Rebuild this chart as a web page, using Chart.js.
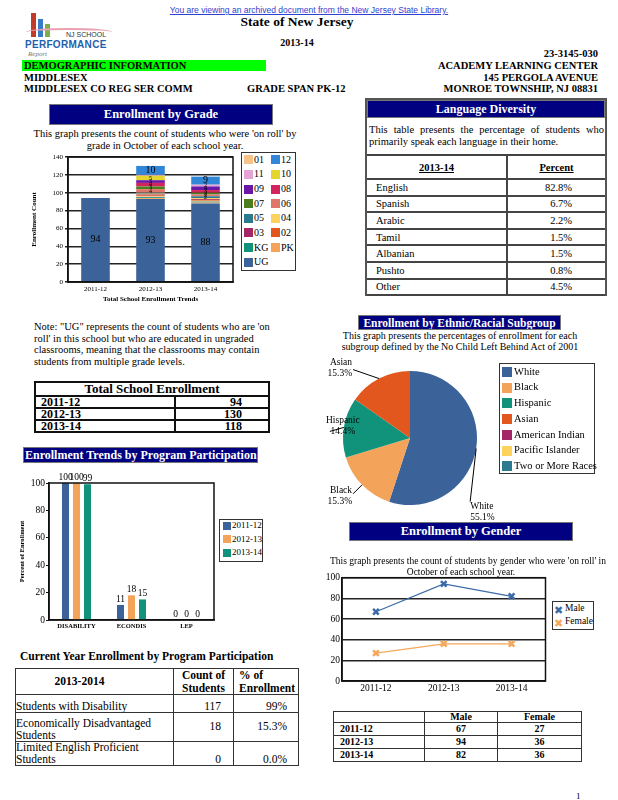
<!DOCTYPE html>
<html>
<head>
<meta charset="utf-8">
<script src="https://cdn.jsdelivr.net/npm/chart.js@4.4.1/dist/chart.umd.min.js"></script>
<style>
  body { margin: 0; background: #fff; font-family: 'Liberation Serif', serif; color: #000; }
  #page { position: relative; width: 618px; height: 800px; overflow: hidden; }
  .a { position: absolute; white-space: nowrap; line-height: 1; }
  .b { font-weight: bold; }
  .navy { position: absolute; background: #000080; color: #fff; font-weight: bold; display: flex;
          align-items: center; justify-content: center; border: 1px solid #777; box-sizing: border-box; white-space: nowrap; overflow: hidden; }
  canvas { position: absolute; }
  .box { position: absolute; border: 1.5px solid #333; box-sizing: border-box; background: #fff; }
  .sw { position: absolute; }
  table { position: absolute; border-collapse: collapse; table-layout: fixed; }
  td { padding: 0; overflow: hidden; white-space: nowrap; }
  #langTbl td { border-top: 2px solid #444; font-size: 10.5px; height: 14.6px; }
  #langTbl td + td { border-left: 2px solid #444; text-align: right; padding-right: 33px; }
  #langTbl td:first-child { padding-left: 9px; }
  #totTbl td { border: 2px solid #111; font-weight: bold; font-size: 12px; height: 10px; line-height: 10px; }
  #curTbl td { border: 1.5px solid #333; font-size: 11.5px; line-height: 11.5px; vertical-align: bottom; }
  #genTbl td { border: 1.5px solid #333; font-weight: bold; font-size: 10px; line-height: 10px; text-align: center; }
</style>
</head>
<body>
<div id="page">
  <!-- header -->
  <div class="a" style="left:0;width:618px;text-align:center;top:5px;font:8.5px 'Liberation Sans';color:#3040d0;text-decoration:underline">You are viewing an archived document from the New Jersey State Library.</div>
  <div class="sw" style="left:31px;top:13px;width:5px;height:24px;background:#c43a2a"></div>
  <div class="sw" style="left:38px;top:19px;width:5px;height:18px;background:#3a7bc8"></div>
  <div class="sw" style="left:45px;top:24px;width:5px;height:13px;background:#7bb04a"></div>
  <div class="sw" style="left:26px;top:28px;width:86px;height:6px;border-top:2px solid #e9a0b0;border-radius:50% 50% 0 0"></div>
  <div class="a" style="left:66px;top:31px;font:7px 'Liberation Sans';color:#333">NJ SCHOOL</div>
  <div class="a" style="left:25px;top:39px;font:bold 10px 'Liberation Sans';color:#1f5fae;letter-spacing:0.3px">PERFORMANCE</div>
  <div class="a" style="left:28px;top:50px;font:italic 7px 'Liberation Serif';color:#777">Report</div>

  <div class="a b" style="left:197px;width:200px;text-align:center;top:15px;font-size:13.5px">State of New Jersey</div>
  <div class="a b" style="left:197px;width:200px;text-align:center;top:38px;font-size:10px">2013-14</div>
  <div class="a b" style="right:20px;top:49px;font-size:10.5px">23-3145-030</div>
  <div class="sw" style="left:22px;top:60px;width:244px;height:11px;background:#00ff00"></div>
  <div class="a b" style="left:24px;top:61px;font-size:10.5px">DEMOGRAPHIC INFORMATION</div>
  <div class="a b" style="right:20px;top:61px;font-size:10.5px">ACADEMY LEARNING CENTER</div>
  <div class="a b" style="left:24px;top:73px;font-size:10.5px">MIDDLESEX</div>
  <div class="a b" style="right:20px;top:73px;font-size:10.5px">145 PERGOLA AVENUE</div>
  <div class="a b" style="left:24px;top:84px;font-size:10.5px">MIDDLESEX CO REG SER COMM</div>
  <div class="a b" style="left:247px;top:84px;font-size:10.5px">GRADE SPAN PK-12</div>
  <div class="a b" style="right:20px;top:84px;font-size:10.5px">MONROE TOWNSHIP, NJ 08831</div>

  <!-- enrollment by grade -->
  <div class="navy" style="left:49px;top:104px;width:224px;height:21px;font-size:12.5px">Enrollment by Grade</div>
  <div class="a" style="left:30px;width:270px;text-align:center;top:128px;font-size:10.5px;line-height:12px">This graph presents the count of students who were 'on roll' by<br>grade in October of each school year.</div>
  <canvas id="gradeChart" width="206" height="153" style="left:30px;top:150px"></canvas>
  <div class="box" id="gradeLegend" style="left:241px;top:152px;width:55px;height:119px"></div>

  <!-- language diversity -->
  <div class="box" style="left:365px;top:98px;width:242px;height:198px;border:2px solid #555"></div>
  <div class="navy" style="left:367px;top:100px;width:238px;height:18px;font-size:12px">Language Diversity</div>
  <div class="a" style="left:369px;width:235px;top:124px;font-size:10.5px;line-height:12px;white-space:normal;text-align:justify">This table presents the percentage of students who primarily speak each language in their home.</div>
  <table id="langTbl" style="left:367px;top:154px;width:238px"></table>

  <!-- note + total -->
  <div class="a" style="left:34px;top:321px;font-size:10.5px;line-height:11.7px">Note: "UG" represents the count of students who are 'on<br>roll' in this school but who are educated in ungraded<br>classrooms, meaning that the classrooms may contain<br>students from multiple grade levels.</div>
  <table id="totTbl" style="left:34px;top:381px;width:236px"></table>

  <!-- program participation -->
  <div class="navy" style="left:23px;top:447px;width:235px;height:16px;font-size:12px;justify-content:flex-start;padding-left:1px">Enrollment Trends by Program Participation</div>
  <canvas id="progChart" width="200" height="170" style="left:18px;top:470px"></canvas>
  <div class="box" id="progLegend" style="left:219px;top:519px;width:44px;height:43px"></div>

  <div class="a b" style="left:20px;top:651px;font-size:11.5px">Current Year Enrollment by Program Participation</div>
  <table id="curTbl" style="left:15px;top:668px;width:284px"></table>

  <!-- ethnic -->
  <div class="navy" style="left:358px;top:315px;width:203px;height:15px;font-size:11.5px">Enrollment by Ethnic/Racial Subgroup</div>
  <div class="a" style="left:320px;width:280px;text-align:center;top:330px;font-size:10px;line-height:11px">This graph presents the percentages of enrollment for each<br>subgroup defined by the No Child Left Behind Act of 2001</div>
  <canvas id="ethChart" width="180" height="170" style="left:320px;top:355px"></canvas>
  <div class="box" id="ethLegend" style="left:499px;top:363px;width:96px;height:111px"></div>

  <!-- gender -->
  <div class="navy" style="left:349px;top:522px;width:224px;height:19px;font-size:12.5px">Enrollment by Gender</div>
  <canvas id="genChart" width="236" height="128" style="left:316px;top:570px"></canvas>
  <div class="a" style="left:330px;width:262px;text-align:center;top:556px;font-size:9.5px;line-height:10.5px">This graph presents the count of students by gender who were 'on roll' in<br>October of each school year.</div>
  <div class="box" id="genLegend" style="left:552px;top:601px;width:42px;height:29px"></div>
  <table id="genTbl" style="left:333px;top:711px;width:249px"></table>

  <div class="a" style="left:576px;top:792px;font-size:9px">1</div>
</div>

<script>
  // ---- data ----
  const years = ['2011-12', '2012-13', '2013-14'];

  const grades = ['UG', 'PK', 'KG', '01', '02', '03', '04', '05', '06', '07', '08', '09', '10', '11', '12'];
  const gradeColors = ['#3b6399', '#f3a35a', '#10937a', '#f7c38a', '#e2571e', '#a32766', '#fdd35e', '#2b7a8f',
                       '#e0766a', '#4b7e1c', '#d3245e', '#6a16a6', '#e4d52f', '#e3a3d4', '#3286d8'];
  const gradeCounts = [
    [94, 93, 88], [0, 1, 1], [0, 1, 1], [0, 1, 1], [0, 1, 1], [0, 1, 1], [0, 1, 1], [0, 1, 2],
    [0, 4, 2], [0, 3, 2], [0, 4, 3], [0, 3, 4], [0, 5, 0], [0, 1, 2], [0, 10, 9]
  ];
  const gradeLegendOrder = ['01', '12', '11', '10', '09', '08', '07', '06', '05', '04', '03', '02', 'KG', 'PK', 'UG'];

  const languages = ['English', 'Spanish', 'Arabic', 'Tamil', 'Albanian', 'Pushto', 'Other'];
  const languagePct = [82.8, 6.7, 2.2, 1.5, 1.5, 0.8, 4.5];

  const totalEnrollment = [94, 130, 118];

  const programs = ['DISABILITY', 'ECONDIS', 'LEP'];
  const yearColors = ['#3b6399', '#f3a35a', '#10937a'];
  const programPct = [[100, 11, 0], [100, 18, 0], [99, 15, 0]];

  const programNames = ['Students with Disability', 'Economically Disadvantaged<br>Students', 'Limited English Proficient<br>Students'];
  const programCounts = [117, 18, 0];
  const programShare = ['99%', '15.3%', '0.0%'];

  const subgroups = ['White', 'Black', 'Hispanic', 'Asian', 'American Indian', 'Pacific Islander', 'Two or More Races'];
  const subgroupPct = [55.1, 15.3, 14.4, 15.3, 0, 0, 0];
  const subgroupColors = ['#3b6399', '#f3a35a', '#10937a', '#e2571e', '#a32766', '#fdd35e', '#2b7a8f'];

  const genders = ['Male', 'Female'];
  const genderColors = ['#3b6aa8', '#f5a85a'];
  const maleCounts = [67, 94, 82];
  const femaleCounts = [27, 36, 36];

  Chart.defaults.font.family = "'Liberation Serif', serif";
  Chart.defaults.color = '#000';
  Chart.defaults.animation = false;

  // frame around the plot area
  const frame = {
    id: 'frame',
    afterDraw(chart) {
      const a = chart.chartArea, ctx = chart.ctx;
      ctx.save();
      ctx.strokeStyle = '#111';
      ctx.lineWidth = 1.5;
      ctx.strokeRect(a.left, a.top, a.right - a.left, a.bottom - a.top);
      ctx.restore();
    }
  };

  function valueLabels(mode) {
    return {
      id: 'valueLabels_' + mode,
      afterDatasetsDraw(chart) {
        const ctx = chart.ctx;
        ctx.save();
        ctx.fillStyle = '#000';
        ctx.textAlign = 'center';
        chart.data.datasets.forEach((ds, i) => {
          chart.getDatasetMeta(i).data.forEach((bar, j) => {
            const v = ds.data[j];
            if (mode === 'center') {
              if (v < 2) return;
              ctx.font = (v >= 9 ? '10px' : '6px') + " 'Liberation Serif'";
              ctx.textBaseline = 'middle';
              ctx.fillText(v, bar.x, (bar.y + bar.base) / 2);
            } else {
              ctx.font = "9.5px 'Liberation Serif'";
              ctx.textBaseline = 'bottom';
              ctx.fillText(v, bar.x, bar.y - 1);
            }
          });
        });
        ctx.restore();
      }
    };
  }

  // ---- enrollment by grade ----
  new Chart(document.getElementById('gradeChart'), {
    type: 'bar',
    data: {
      labels: years,
      datasets: grades.map((g, i) => ({
        label: g, data: gradeCounts[i], backgroundColor: gradeColors[i],
        barPercentage: 0.52, categoryPercentage: 1
      }))
    },
    options: {
      responsive: false,
      layout: { padding: { top: 7, right: 3 } },
      plugins: { legend: { display: false }, tooltip: { enabled: false } },
      scales: {
        x: {
          stacked: true,
          grid: { display: false, drawTicks: false },
          border: { color: '#111', width: 1.5 },
          ticks: { font: { size: 7 }, padding: 3 },
          title: { display: true, text: 'Total School Enrollment Trends', font: { size: 7, weight: 'bold' }, padding: { top: 3, bottom: 0 } },
          afterFit(s) { s.height = 21; }
        },
        y: {
          stacked: true, min: 0, max: 140,
          ticks: { stepSize: 20, font: { size: 7 }, padding: 2 },
          grid: { color: '#222', lineWidth: 1.5, tickLength: 3 },
          border: { color: '#111', width: 1.5 },
          title: { display: true, text: 'Enrollment Count', font: { size: 7, weight: 'bold' }, padding: 0 },
          afterFit(s) { s.width = 38; }
        }
      }
    },
    plugins: [valueLabels('center'), frame]
  });

  const gl = document.getElementById('gradeLegend');
  gradeLegendOrder.forEach((g, k) => {
    const col = k % 2, row = Math.floor(k / 2);
    const y = 6.7 + row * 14.65;
    const c = gradeColors[grades.indexOf(g)];
    gl.insertAdjacentHTML('beforeend',
      `<div class="sw" style="left:${2 + col * 27}px;top:${y - 4.5}px;width:9px;height:9px;background:${c}"></div>` +
      `<div class="a" style="left:${12 + col * 27}px;top:${y - 5}px;font-size:10px">${g}</div>`);
  });

  // ---- language table ----
  let lt = '<colgroup><col style="width:140px"><col></colgroup>' +
    '<tr><td style="height:22px;text-align:center;padding:0;font-weight:bold;text-decoration:underline">2013-14</td>' +
    '<td style="text-align:center;padding:0;font-weight:bold;text-decoration:underline">Percent</td></tr>';
  languages.forEach((l, i) => {
    lt += `<tr><td>${l}</td><td>${languagePct[i].toFixed(1)}%</td></tr>`;
  });
  lt += '<tr><td style="height:0;border-left:0"></td><td style="height:0"></td></tr>';
  document.getElementById('langTbl').innerHTML = lt;

  // ---- total enrollment table ----
  let tt = '<colgroup><col style="width:140px"><col></colgroup>' +
    '<tr><td colspan="2" style="text-align:center;font-size:13px;height:12px;line-height:12px">Total School Enrollment</td></tr>';
  years.forEach((y, i) => {
    tt += `<tr><td style="padding-left:5px">${y}</td><td style="text-align:right;padding-right:26px">${totalEnrollment[i]}</td></tr>`;
  });
  document.getElementById('totTbl').innerHTML = tt;

  // ---- program participation ----
  new Chart(document.getElementById('progChart'), {
    type: 'bar',
    data: {
      labels: programs,
      datasets: years.map((y, i) => ({
        label: y, data: programPct[i], backgroundColor: yearColors[i],
        categoryPercentage: 0.6, barPercentage: 0.64
      }))
    },
    options: {
      responsive: false,
      layout: { padding: { top: 13, right: 4 } },
      plugins: { legend: { display: false }, tooltip: { enabled: false } },
      scales: {
        x: {
          grid: { display: false, drawTicks: false },
          border: { color: '#111', width: 1.5 },
          ticks: { font: { size: 6.5, weight: 'bold' }, padding: 2 },
          afterFit(s) { s.height = 20; }
        },
        y: {
          min: 0, max: 100,
          ticks: { stepSize: 20, font: { size: 9.5 }, padding: 1 },
          grid: { drawOnChartArea: false, color: '#111', tickLength: 3 },
          border: { color: '#111', width: 1.5 },
          title: { display: true, text: 'Percent of Enrollment', font: { size: 6.5, weight: 'bold' }, padding: 0 },
          afterFit(s) { s.width = 31; }
        }
      }
    },
    plugins: [valueLabels('top'), frame]
  });

  const pl = document.getElementById('progLegend');
  years.forEach((y, i) => {
    const yy = 5.5 + i * 13.5;
    pl.insertAdjacentHTML('beforeend',
      `<div class="sw" style="left:2.5px;top:${yy - 4}px;width:8px;height:8px;background:${yearColors[i]}"></div>` +
      `<div class="a" style="left:12px;top:${yy - 4.5}px;font-size:9px">${y}</div>`);
  });

  let ct = '<colgroup><col style="width:158px"><col style="width:60px"><col></colgroup>' +
    '<tr><td style="height:23px;font-weight:bold;text-align:center;vertical-align:middle;padding-right:30px">2013-2014</td>' +
    '<td style="font-weight:bold;text-align:center;line-height:12.5px">Count of<br>Students</td>' +
    '<td style="font-weight:bold;padding-left:5px;line-height:12.5px">% of<br>Enrollment</td></tr>';
  const rowH = [17, 28, 22];
  programNames.forEach((p, i) => {
    const va = i === 1 ? 'middle' : 'bottom';
    ct += `<tr><td style="height:${rowH[i]}px">${p}</td>` +
      `<td style="text-align:right;padding-right:12px;vertical-align:${va}">${programCounts[i]}</td>` +
      `<td style="text-align:right;padding-right:11px;vertical-align:${va}">${programShare[i]}</td></tr>`;
  });
  document.getElementById('curTbl').innerHTML = ct;

  // ---- ethnic / racial pie ----
  const pieLabelLayout = [
    { dx: -6, dy: 53, tx: 0, ty: 10, align: 'left' },
    { dx: -9, dy: 9, tx: -1, ty: 2, align: 'right' },
    { dx: -14, dy: 4, tx: 13, ty: -5, align: 'center' },
    { dx: -26, dy: -9, tx: -1, ty: -2, align: 'right' }
  ];
  const pieLabels = {
    id: 'pieLabels',
    afterDraw(chart) {
      const ctx = chart.ctx;
      const ds = chart.data.datasets[0];
      ctx.save();
      ctx.font = "9.5px 'Liberation Serif'";
      ctx.fillStyle = '#000';
      ctx.strokeStyle = '#000';
      ctx.lineWidth = 1;
      ctx.textBaseline = 'middle';
      chart.getDatasetMeta(0).data.forEach((arc, i) => {
        const lay = pieLabelLayout[i];
        if (!ds.data[i] || !lay) return;
        const mid = (arc.startAngle + arc.endAngle) / 2;
        const sx = arc.x + Math.cos(mid) * arc.outerRadius;
        const sy = arc.y + Math.sin(mid) * arc.outerRadius;
        const ex = sx + lay.dx, ey = sy + lay.dy;
        ctx.beginPath();
        ctx.moveTo(sx, sy);
        ctx.lineTo(ex, ey);
        ctx.stroke();
        ctx.textAlign = lay.align;
        const x = ex + lay.tx, y = ey + lay.ty;
        ctx.fillText(chart.data.labels[i], x, y - 5.5);
        ctx.fillText(ds.data[i].toFixed(1) + '%', x, y + 5.5);
      });
      ctx.restore();
    }
  };

  new Chart(document.getElementById('ethChart'), {
    type: 'pie',
    data: {
      labels: subgroups,
      datasets: [{ data: subgroupPct, backgroundColor: subgroupColors, borderWidth: 0 }]
    },
    options: {
      responsive: false,
      layout: { padding: { left: 23, right: 23, top: 16, bottom: 20 } },
      plugins: { legend: { display: false }, tooltip: { enabled: false } }
    },
    plugins: [pieLabels]
  });

  const el = document.getElementById('ethLegend');
  subgroups.forEach((s, i) => {
    const yy = 8 + i * 15.7;
    el.insertAdjacentHTML('beforeend',
      `<div class="sw" style="left:2px;top:${yy - 5}px;width:10px;height:10px;background:${subgroupColors[i]}"></div>` +
      `<div class="a" style="left:14px;top:${yy - 5.25}px;font-size:10.5px">${s}</div>`);
  });

  // ---- gender ----
  new Chart(document.getElementById('genChart'), {
    type: 'line',
    data: {
      labels: years,
      datasets: [maleCounts, femaleCounts].map((d, i) => ({
        label: genders[i], data: d, borderColor: genderColors[i], backgroundColor: genderColors[i],
        borderWidth: 1.2, pointStyle: 'crossRot', pointRadius: 4, pointBorderWidth: 2.5
      }))
    },
    options: {
      responsive: false,
      layout: { padding: { top: 5, right: 4 } },
      plugins: { legend: { display: false }, tooltip: { enabled: false } },
      scales: {
        x: {
          offset: true,
          grid: { display: false, drawTicks: false },
          border: { color: '#111', width: 1.5 },
          ticks: { font: { size: 9.5 }, padding: 2 },
          afterFit(s) { s.height = 17; }
        },
        y: {
          min: 0, max: 100,
          ticks: { stepSize: 20, font: { size: 9.5 }, padding: 2 },
          grid: { color: '#222', lineWidth: 1.5, drawTicks: false },
          border: { color: '#111', width: 1.5 },
          afterFit(s) { s.width = 26; }
        }
      }
    },
    plugins: [frame]
  });

  const gdl = document.getElementById('genLegend');
  genders.forEach((g, i) => {
    const yy = 7 + i * 13;
    gdl.insertAdjacentHTML('beforeend',
      `<div class="a" style="left:1px;top:${yy - 5.5}px;font:11px 'DejaVu Sans';color:${genderColors[i]}">✖</div>` +
      `<div class="a" style="left:12px;top:${yy - 4.75}px;font-size:9.5px">${g}</div>`);
  });

  let gt = '<colgroup><col style="width:91px"><col style="width:73px"><col></colgroup>' +
    '<tr><td style="height:10px"></td><td>Male</td><td>Female</td></tr>';
  years.forEach((y, i) => {
    gt += `<tr><td style="height:12px;text-align:left;padding-left:6px">${y}</td><td>${maleCounts[i]}</td><td>${femaleCounts[i]}</td></tr>`;
  });
  document.getElementById('genTbl').innerHTML = gt;
</script>
</body>
</html>
